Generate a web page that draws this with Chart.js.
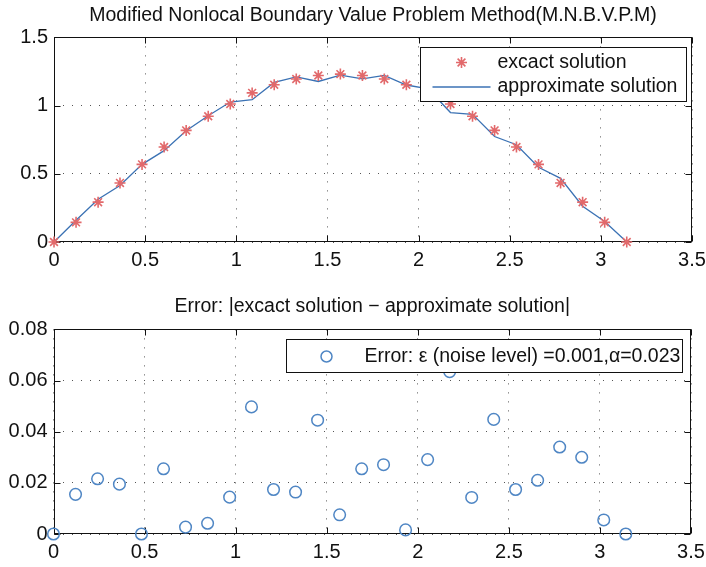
<!DOCTYPE html>
<html><head><meta charset="utf-8">
<script src="https://cdn.jsdelivr.net/npm/chart.js@4.4.1/dist/chart.umd.min.js"></script>
<style>
html,body{margin:0;padding:0;background:#fff;overflow:hidden;}
#c1{position:absolute;left:0;top:0;}
#c2{position:absolute;left:0;top:283px;}
</style></head><body>
<canvas id="c1" width="706" height="283"></canvas>
<canvas id="c2" width="706" height="284"></canvas>
<script>
// ---- data ----
const xValues = [0, 0.121, 0.242, 0.362, 0.483, 0.604, 0.725, 0.846, 0.967, 1.087, 1.208, 1.329, 1.450, 1.571,
                 1.692, 1.812, 1.933, 2.054, 2.175, 2.296, 2.417, 2.537, 2.658, 2.779, 2.900, 3.021, 3.142];
const exactSolution = [0, 0.144, 0.292, 0.433, 0.569, 0.696, 0.818, 0.922, 1.012, 1.093, 1.153, 1.195, 1.221, 1.231,
                       1.221, 1.195, 1.153, 1.093, 1.012, 0.922, 0.818, 0.696, 0.569, 0.433, 0.292, 0.144, 0];
const approxSolution = [0, 0.159, 0.314, 0.414, 0.569, 0.670, 0.815, 0.926, 1.026, 1.043, 1.170, 1.211, 1.177, 1.224,
                        1.196, 1.222, 1.151, 1.122, 0.949, 0.936, 0.773, 0.713, 0.548, 0.467, 0.262, 0.150, 0];
const errorValues = [0, 0.0155, 0.0216, 0.0195, 0, 0.0255, 0.0027, 0.0042, 0.0144, 0.0497, 0.0174, 0.0164, 0.0445, 0.0075,
                     0.0255, 0.0271, 0.0016, 0.0291, 0.0635, 0.0143, 0.0448, 0.0174, 0.021, 0.034, 0.030, 0.0055, 0];
const xTicks = [0, 0.5, 1, 1.5, 2, 2.5, 3, 3.5];
const xTickLabels = ['0', '0.5', '1', '1.5', '2', '2.5', '3', '3.5'];
const yTicksTop = [0, 0.5, 1, 1.5];
const yTickLabelsTop = ['0', '0.5', '1', '1.5'];
const yTicksBottom = [0, 0.02, 0.04, 0.06, 0.08];
const yTickLabelsBottom = ['0', '0.02', '0.04', '0.06', '0.08'];
const titleTop = 'Modified Nonlocal Boundary Value Problem Method(M.N.B.V.P.M)';
const titleBottom = 'Error: |excact solution \u2212 approximate solution|';
const legendTop = ['excact solution', 'approximate solution'];
const legendBottom = 'Error: \u03b5 (noise level) =0.001,\u03b1=0.023';

// ---- style ----
const FONT = '"Liberation Sans", Arial, sans-serif';
const RED = '#e2696b';
const BLUE = '#3b72b4';
const CIRC = '#4f86c4';
const TICKSIZE = 20;
const TEXTSIZE = 19.5;
Chart.defaults.font.family = FONT;
Chart.defaults.color = '#111';

function toPts(ys) { return xValues.map((x, i) => ({x: x, y: ys[i]})); }

function drawStar(ctx, x, y, r) {
  ctx.beginPath();
  ctx.moveTo(x - r, y); ctx.lineTo(x + r, y);
  ctx.moveTo(x, y - r); ctx.lineTo(x, y + r);
  const d = r * 0.7071;
  ctx.moveTo(x - d, y - d); ctx.lineTo(x + d, y + d);
  ctx.moveTo(x - d, y + d); ctx.lineTo(x + d, y - d);
  ctx.stroke();
}

function makeFramePlugin(legendFn) {
  return {
    id: 'frame',
    beforeDatasetsDraw(chart) {
      const {ctx, chartArea: a, scales} = chart;
      ctx.save();
      ctx.setLineDash([]);
      ctx.strokeStyle = '#111';
      ctx.lineWidth = 1;
      const L = Math.round(a.left) + 0.5, R = Math.round(a.right) - 0.5;
      const T = Math.round(a.top) + 0.5, B = Math.round(a.bottom) - 0.5;
      ctx.strokeRect(L, T, R - L, B - T);
      const tl = 6;
      ctx.beginPath();
      scales.x.ticks.forEach(t => {
        const px = Math.round(scales.x.getPixelForValue(t.value)) + 0.5;
        ctx.moveTo(px, B); ctx.lineTo(px, B - tl);
        ctx.moveTo(px, T); ctx.lineTo(px, T + tl);
      });
      scales.y.ticks.forEach(t => {
        const py = Math.round(scales.y.getPixelForValue(t.value)) + 0.5;
        ctx.moveTo(L, py); ctx.lineTo(L + tl, py);
        ctx.moveTo(R, py); ctx.lineTo(R - tl, py);
      });
      ctx.stroke();
      ctx.restore();
    },
    afterDraw(chart) { legendFn(chart); }
  };
}

function legendBoxTop(chart) {
  const {ctx, chartArea: a} = chart;
  const w = 266, h = 54;
  const left = Math.round(a.right - 6 - w) + 0.5, top = Math.round(a.top + 10) + 0.5;
  ctx.save();
  ctx.fillStyle = '#fff';
  ctx.fillRect(left, top, w, h);
  ctx.strokeStyle = '#111'; ctx.lineWidth = 1;
  ctx.strokeRect(left, top, w, h);
  ctx.strokeStyle = RED; ctx.lineWidth = 1.6;
  drawStar(ctx, left + 41, top + 15, 5.5);
  ctx.strokeStyle = BLUE; ctx.lineWidth = 1.3;
  ctx.beginPath(); ctx.moveTo(left + 12, top + 39.5); ctx.lineTo(left + 70, top + 39.5); ctx.stroke();
  ctx.fillStyle = '#111';
  ctx.font = TEXTSIZE + 'px ' + FONT;
  ctx.textBaseline = 'middle';
  ctx.textAlign = 'left';
  ctx.fillText(legendTop[0], left + 77, top + 15);
  ctx.fillText(legendTop[1], left + 77, top + 39);
  ctx.restore();
}

function legendBoxBottom(chart) {
  const {ctx, chartArea: a} = chart;
  const w = 396, h = 33;
  const left = Math.round(a.right - 9.5 - w) + 0.5, top = Math.round(a.top + 9.7) + 0.5;
  ctx.save();
  ctx.fillStyle = '#fff';
  ctx.fillRect(left, top, w, h);
  ctx.strokeStyle = '#111'; ctx.lineWidth = 1;
  ctx.strokeRect(left, top, w, h);
  ctx.strokeStyle = CIRC; ctx.lineWidth = 1.5;
  ctx.beginPath(); ctx.arc(left + 40, top + 17, 5.5, 0, Math.PI * 2); ctx.stroke();
  ctx.fillStyle = '#111';
  ctx.font = TEXTSIZE + 'px ' + FONT;
  ctx.textBaseline = 'middle';
  ctx.textAlign = 'left';
  ctx.fillText(legendBottom, left + 78, top + 17);
  ctx.restore();
}

function xScale(height) {
  return {
    type: 'linear', min: 0, max: 3.5,
    afterBuildTicks: s => { s.ticks = xTicks.map(v => ({value: v})); },
    afterFit: s => { s.height = height; s.paddingLeft = 0; s.paddingRight = 0; },
    ticks: { callback: (v, i) => xTickLabels[i], font: {size: TICKSIZE}, padding: 6, maxRotation: 0, color: '#111' },
    grid: { color: '#555', lineWidth: 1, drawTicks: false },
    border: { display: false, dash: [1, 8] }
  };
}
function yScale(min, max, ticks, labels, width) {
  return {
    type: 'linear', min: min, max: max,
    afterBuildTicks: s => { s.ticks = ticks.map(v => ({value: v})); },
    afterFit: s => { s.width = width; s.paddingTop = 0; s.paddingBottom = 0; },
    ticks: { callback: (v, i) => labels[i], font: {size: TICKSIZE}, padding: 6, color: '#111' },
    grid: { color: '#555', lineWidth: 1, drawTicks: false },
    border: { display: false, dash: [1, 8] }
  };
}

new Chart(document.getElementById('c1'), {
  type: 'scatter',
  data: { datasets: [
    { label: legendTop[0], data: toPts(exactSolution), showLine: false, pointStyle: 'star',
      pointRadius: 5.5, pointBorderColor: RED, pointBorderWidth: 1.6, pointBackgroundColor: RED, clip: false },
    { label: legendTop[1], data: toPts(approxSolution), showLine: true, pointRadius: 0,
      borderColor: BLUE, borderWidth: 1.3, tension: 0, clip: false }
  ]},
  options: {
    responsive: false, animation: false, devicePixelRatio: 1,
    layout: { padding: { left: 0, right: 14, top: 0, bottom: 0 } },
    scales: { x: xScale(41), y: yScale(0, 1.5, yTicksTop, yTickLabelsTop, 54) },
    plugins: {
      legend: { display: false }, tooltip: { enabled: false },
      title: { display: true, text: titleTop, fullSize: false, color: '#111',
               font: { size: TEXTSIZE, weight: 'normal' }, padding: { top: 4, bottom: 10 } }
    }
  },
  plugins: [makeFramePlugin(legendBoxTop)]
});

new Chart(document.getElementById('c2'), {
  type: 'scatter',
  data: { datasets: [
    { label: legendBottom, data: toPts(errorValues), showLine: false, pointStyle: 'circle',
      pointRadius: 5.8, pointBorderColor: CIRC, pointBorderWidth: 1.5, pointBackgroundColor: 'rgba(0,0,0,0)', clip: false }
  ]},
  options: {
    responsive: false, animation: false, devicePixelRatio: 1,
    layout: { padding: { left: 0, right: 15, top: 0, bottom: 0 } },
    scales: { x: xScale(33), y: yScale(0, 0.08, yTicksBottom, yTickLabelsBottom, 53.5) },
    plugins: {
      legend: { display: false }, tooltip: { enabled: false },
      title: { display: true, text: titleBottom, fullSize: false, color: '#111',
               font: { size: TEXTSIZE, weight: 'normal' }, padding: { top: 12, bottom: 11 } }
    }
  },
  plugins: [makeFramePlugin(legendBoxBottom)]
});
</script>
</body></html>
